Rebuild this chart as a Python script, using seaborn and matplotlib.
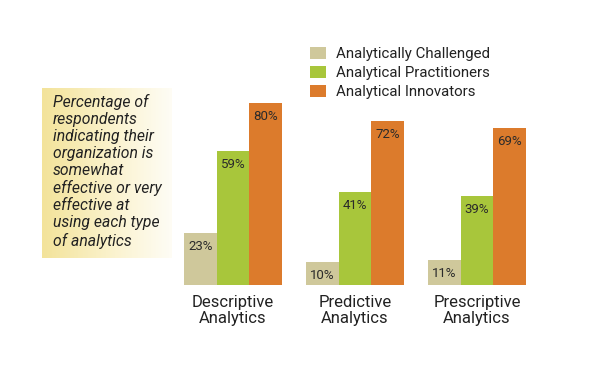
import numpy as np
import pandas as pd
import matplotlib
matplotlib.use("Agg")
import matplotlib.pyplot as plt
import seaborn as sns
from matplotlib.colors import LinearSegmentedColormap

categories = ["Descriptive\nAnalytics", "Predictive\nAnalytics", "Prescriptive\nAnalytics"]
groups = ["Analytically Challenged", "Analytical Practitioners", "Analytical Innovators"]
challenged = [23, 10, 11]
practitioners = [59, 41, 39]
innovators = [80, 72, 69]
colors = ["#cfc89b", "#a8c63b", "#dc7b2c"]
note = ("Percentage of\nrespondents\nindicating their\norganization is\nsomewhat\n"
        "effective or very\neffective at\nusing each type\nof analytics")

df = pd.DataFrame({
    "category": categories * 3,
    "group": [g for g in groups for _ in categories],
    "value": challenged + practitioners + innovators,
})

sns.set_style("white")
plt.rcParams["font.family"] = ["Roboto", "DejaVu Sans"]

fig = plt.figure(figsize=(6, 3.81), dpi=100)

# yellow gradient box behind the note
bg = fig.add_axes([42 / 600, (381 - 258) / 381, 145 / 600, 170 / 381])
cmap = LinearSegmentedColormap.from_list("fade", ["#f3e39a", "#fbf3cf", "#ffffff"])
bg.imshow(np.linspace(0, 1, 200)[None, :], aspect="auto", cmap=cmap, extent=[0, 1, 0, 1])
bg.set_axis_off()
bg.text(11 / 145, 0.965, note, transform=bg.transAxes, ha="left", va="top",
        fontsize=11.3, style="italic", color="#222222", linespacing=1.17)

ax = fig.add_axes([172 / 600, (381 - 285) / 381, 366 / 600, 227.5 / 381])
sns.barplot(data=df, x="category", y="value", hue="group", palette=colors,
            saturation=1, width=0.8, linewidth=0, ax=ax, legend=True)
ax.set_ylim(0, 100)
ax.set_xlim(-0.5, 2.5)
sns.despine(ax=ax, left=True, bottom=True)
ax.set_yticks([])
ax.set_xlabel("")
ax.set_ylabel("")
ax.tick_params(axis="x", length=0, pad=7, labelsize=12, labelcolor="#222222")
for lbl in ax.get_xticklabels():
    lbl.set_linespacing(1.1)

for container in ax.containers:
    for bar in container:
        h = bar.get_height()
        ax.text(bar.get_x() + bar.get_width() / 2, h - 3.0, f"{h:.0f}%",
                ha="center", va="top", fontsize=9.5, color="#2a2a2a")

leg = ax.legend(loc="upper left", bbox_to_anchor=(310 / 600, 1 - 47 / 381),
                bbox_transform=fig.transFigure, frameon=False, fontsize=10.8,
                handlelength=1.05, handleheight=0.9, handletextpad=0.65,
                labelspacing=0.3, borderaxespad=0, borderpad=0)
for t in leg.get_texts():
    t.set_color("#222222")

fig.savefig("out.png", dpi=100)
